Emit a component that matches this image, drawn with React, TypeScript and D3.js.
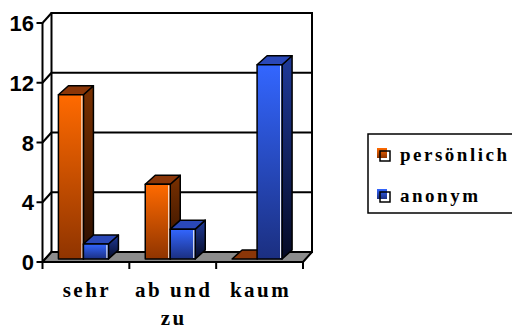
import React from "react";
import * as d3 from "d3";

const categories = ["sehr", "ab und|zu", "kaum"];
const seriesNames = ["persönlich", "anonym"];
const persoenlich = [11, 5, 0];
const anonym = [1, 2, 13];
const yTicks = [0, 4, 8, 12, 16];

const W = 512, H = 331;
const D = { x: 9, y: -10 };
const BD = { x: 10, y: -9 };

export default function App() {
  const yFront = d3.scaleLinear().domain([0, 16]).range([262, 23]);
  const yBar = d3.scaleLinear().domain([0, 16]).range([259, 20]);
  const x = d3.scaleBand<string>().domain(categories).range([42.5, 303]).padding(0);
  const bw = 25;
  const left = 42.5, right = 303;
  const series = [persoenlich, anonym];

  const bars: React.ReactNode[] = [];
  categories.forEach((c, ci) => {
    const center = (x(c) as number) + x.bandwidth() / 2 - 2.5;
    series.forEach((vals, si) => {
      const v = vals[ci];
      const x0 = center - bw + si * bw;
      const x1 = x0 + bw;
      const top = yBar(v);
      const base = yBar(0);
      const key = `${ci}-${si}`;
      const col = si === 0 ? "o" : "b";
      const side = `${x1},${top} ${x1 + BD.x},${top + BD.y} ${x1 + BD.x},${base + BD.y} ${x1},${base}`;
      const topF = `${x0},${top} ${x0 + BD.x},${top + BD.y} ${x1 + BD.x},${top + BD.y} ${x1},${top}`;
      bars.push(
        <g key={key} stroke="#000" strokeWidth={1.5} strokeLinejoin="round">
          {v > 0 && <polygon points={side} fill={`url(#${col}Side)`} />}
          <polygon points={topF} fill={si === 0 ? "#8a3608" : "#2a48b8"} />
          {v > 0 && <rect x={x0} y={top} width={bw} height={base - top} fill={`url(#${col}Front)`} />}
          {v > 0 && <line x1={x1 - 1.5} x2={x1 - 1.5} y1={top + 1} y2={base - 1} stroke="#fff" strokeWidth={1} />}
        </g>
      );
    });
  });

  const labelStyle = { fontFamily: '"Liberation Serif", "Times New Roman", Tinos, "DejaVu Serif", serif', fontWeight: 700 } as React.CSSProperties;
  const numStyle = { fontFamily: '"Liberation Sans", Arial, sans-serif', fontWeight: 700 } as React.CSSProperties;

  return (
    <svg width={W} height={H} style={{ position: "absolute", left: 0, top: 0, background: "#fff" }}>
      <defs>
        <linearGradient id="oFront" x1="0" y1="0" x2="0" y2="1">
          <stop offset="0" stopColor="#ff6a00" />
          <stop offset="1" stopColor="#8f3400" />
        </linearGradient>
        <linearGradient id="oSide" x1="0" y1="0" x2="0" y2="1">
          <stop offset="0" stopColor="#7a3000" />
          <stop offset="1" stopColor="#2a0e00" />
        </linearGradient>
        <linearGradient id="bFront" x1="0" y1="0" x2="0" y2="1">
          <stop offset="0" stopColor="#3366ff" />
          <stop offset="1" stopColor="#1b2f80" />
        </linearGradient>
        <linearGradient id="bSide" x1="0" y1="0" x2="0" y2="1">
          <stop offset="0" stopColor="#1f3a99" />
          <stop offset="1" stopColor="#050a25" />
        </linearGradient>
      </defs>

      {/* back wall */}
      <rect x={left + D.x} y={yFront(16) + D.y} width={right - left} height={yFront(0) - yFront(16)} fill="#fff" stroke="#000" strokeWidth={2} />
      {yTicks.map((t) => (
        <g key={t} stroke="#000" strokeWidth={2}>
          <line x1={left + D.x} x2={right + D.x} y1={yFront(t) + D.y} y2={yFront(t) + D.y} />
          <line x1={left} x2={left + D.x} y1={yFront(t)} y2={yFront(t) + D.y} />
          <line x1={left - 6} x2={left} y1={yFront(t)} y2={yFront(t)} />
        </g>
      ))}
      {/* floor */}
      <polygon
        points={`${left},${yFront(0)} ${right},${yFront(0)} ${right + D.x},${yFront(0) + D.y} ${left + D.x},${yFront(0) + D.y}`}
        fill="#8c8c8c" stroke="#000" strokeWidth={2} strokeLinejoin="round"
      />
      {/* y axis */}
      <line x1={left} x2={left} y1={yFront(16)} y2={yFront(0)} stroke="#000" strokeWidth={2} />
      {/* x ticks */}
      {[0, 1, 2, 3].map((i) => {
        const xx = left + (i * (right - left)) / 3;
        return <line key={i} x1={xx} x2={xx} y1={yFront(0)} y2={yFront(0) + 7} stroke="#000" strokeWidth={2} />;
      })}

      {bars}

      {yTicks.map((t) => (
        <text key={t} x={34} y={yFront(t) + 8} textAnchor="end" style={numStyle} fontSize={22} fill="#000">
          {t}
        </text>
      ))}

      {categories.map((c) => {
        const cx = (x(c) as number) + x.bandwidth() / 2 + 1;
        const lines = c.split("|");
        return lines.map((ln, li) => (
          <text key={c + li} x={cx} y={297 + li * 28} textAnchor="middle" style={labelStyle} fontSize={21} letterSpacing={2.5} fill="#000">
            {ln}
          </text>
        ));
      })}

      {/* legend */}
      <rect x={368} y={134} width={170} height={79} fill="#fff" stroke="#000" strokeWidth={1.5} />
      {seriesNames.map((n, i) => {
        const yy = 148 + i * 41;
        return (
          <g key={n}>
            <rect x={377} y={yy} width={10} height={10} fill={i === 0 ? "url(#oFront)" : "url(#bFront)"} />
            <rect x={380} y={yy + 3} width={10} height={10} fill="none" stroke="#000" strokeWidth={1.5} />
            <text x={400} y={yy + 13} style={labelStyle} fontSize={19} letterSpacing={2.5} fill="#000">
              {n}
            </text>
          </g>
        );
      })}
    </svg>
  );
}
